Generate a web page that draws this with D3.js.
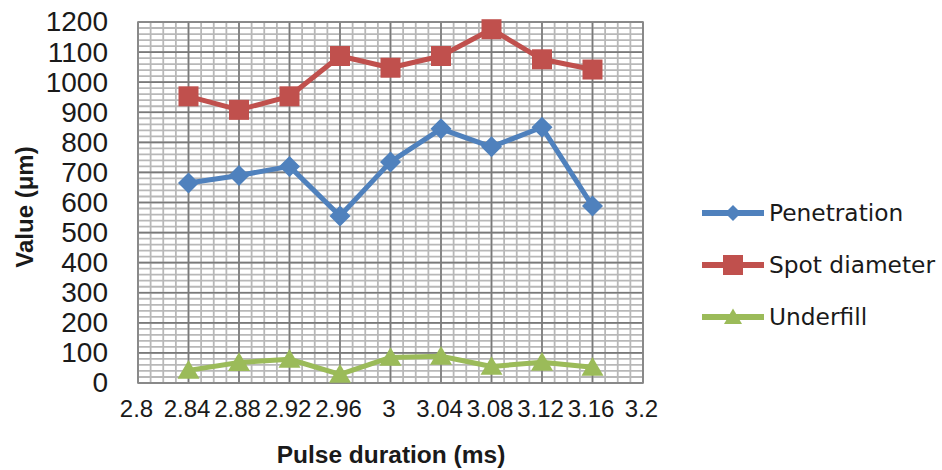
<!DOCTYPE html>
<html>
<head>
<meta charset="utf-8">
<script src="https://cdn.jsdelivr.net/npm/d3@7"></script>
<style>
  html, body { margin: 0; padding: 0; background: #fff; }
  svg { display: block; }
</style>
</head>
<body>
<svg id="chart" width="942" height="470"></svg>
<script>
// Pulse duration (ms) and measured weld features (µm)
const durations = [2.84, 2.88, 2.92, 2.96, 3.00, 3.04, 3.08, 3.12, 3.16];
const penetration = [665, 690, 720, 555, 735, 845, 785, 850, 588];
const spotDiameter = [953, 908, 953, 1087, 1048, 1087, 1176, 1076, 1042];
const underfill = [42, 68, 79, 29, 85, 89, 55, 69, 52];

const seriesNames = ["Penetration", "Spot diameter", "Underfill"];
const seriesColors = ["#4F81BD", "#C0504D", "#9BBB59"];
const seriesMarkers = ["diamond", "square", "triangle"];

const xTickValues = [2.8, 2.84, 2.88, 2.92, 2.96, 3.0, 3.04, 3.08, 3.12, 3.16, 3.2];
const xTickLabels = ["2.8", "2.84", "2.88", "2.92", "2.96", "3", "3.04", "3.08", "3.12", "3.16", "3.2"];
const yTickValues = [0, 100, 200, 300, 400, 500, 600, 700, 800, 900, 1000, 1100, 1200];

const svg = d3.select("#chart");
const plot = { left: 138, right: 643, top: 22, bottom: 383 };

const x = d3.scaleLinear().domain([2.8, 3.2]).range([plot.left, plot.right]);
const y = d3.scaleLinear().domain([0, 1200]).range([plot.bottom, plot.top]);

// minor grid: five subdivisions per major step on both axes
const xMinor = d3.range(0, 41).map(i => 2.8 + i * 0.01);
const yMinor = d3.range(0, 61).map(i => i * 20);

const g = svg.append("g");

g.append("g").selectAll("line").data(xMinor).join("line")
  .attr("x1", d => x(d)).attr("x2", d => x(d))
  .attr("y1", plot.top).attr("y2", plot.bottom)
  .attr("stroke", "#b8b8b8").attr("stroke-width", 1.8);
g.append("g").selectAll("line").data(yMinor).join("line")
  .attr("x1", plot.left).attr("x2", plot.right)
  .attr("y1", d => y(d)).attr("y2", d => y(d))
  .attr("stroke", "#b8b8b8").attr("stroke-width", 1.8);

// major grid
g.append("g").selectAll("line").data(xTickValues).join("line")
  .attr("x1", d => x(d)).attr("x2", d => x(d))
  .attr("y1", plot.top).attr("y2", plot.bottom)
  .attr("stroke", "#7a7a7a").attr("stroke-width", 1.6);
g.append("g").selectAll("line").data(yTickValues).join("line")
  .attr("x1", plot.left).attr("x2", plot.right)
  .attr("y1", d => y(d)).attr("y2", d => y(d))
  .attr("stroke", "#7a7a7a").attr("stroke-width", 1.6);

// plot border
g.append("rect")
  .attr("x", plot.left).attr("y", plot.top)
  .attr("width", plot.right - plot.left).attr("height", plot.bottom - plot.top)
  .attr("fill", "none").attr("stroke", "#8a8a8a").attr("stroke-width", 1.6);

// axes (labels only; the grid carries the lines)
const yAxis = d3.axisLeft(y).tickValues(yTickValues)
  .tickFormat(d3.format("d")).tickSize(0).tickPadding(0);
const yAx = svg.append("g").attr("transform", `translate(${108},0)`).call(yAxis);
yAx.select(".domain").remove();
yAx.selectAll("text")
  .attr("font-family", "Liberation Sans, Arial, sans-serif")
  .attr("font-size", 28).attr("fill", "#1a1a1a");

const xAxis = d3.axisBottom(x).tickValues(xTickValues)
  .tickFormat((d, i) => xTickLabels[i]).tickSize(0).tickPadding(0);
const xAx = svg.append("g").attr("transform", `translate(-2,${400})`).call(xAxis);
xAx.select(".domain").remove();
xAx.selectAll("text")
  .attr("font-family", "Liberation Sans, Arial, sans-serif")
  .attr("font-size", 24).attr("fill", "#1a1a1a");

// axis titles
svg.append("text")
  .attr("x", 391).attr("y", 463)
  .attr("text-anchor", "middle")
  .attr("font-family", "Liberation Sans, Arial, sans-serif")
  .attr("font-weight", "bold").attr("font-size", 24.5).attr("fill", "#1a1a1a")
  .text("Pulse duration (ms)");

svg.append("text")
  .attr("transform", "translate(33,207) rotate(-90)")
  .attr("text-anchor", "middle")
  .attr("font-family", "Liberation Sans, Arial, sans-serif")
  .attr("font-weight", "bold").attr("font-size", 24).attr("fill", "#1a1a1a")
  .text("Value (\u03bcm)");

// marker shapes
function markerPath(kind, s) {
  if (kind === "diamond") return `M0,${-s}L${s},0L0,${s}L${-s},0Z`;
  if (kind === "square") return `M${-s},${-s}H${s}V${s}H${-s}Z`;
  const h = s * 1.7;
  return `M0,${-h * 0.55}L${s},${h * 0.45}L${-s},${h * 0.45}Z`;
}

const seriesValues = [penetration, spotDiameter, underfill];
const line = d3.line().x(d => x(d[0])).y(d => y(d[1]));

seriesValues.forEach((vals, si) => {
  const pts = durations.map((d, i) => [d, vals[i]]);
  const sg = svg.append("g");
  sg.append("path").datum(pts)
    .attr("d", line).attr("fill", "none")
    .attr("stroke", seriesColors[si]).attr("stroke-width", 5)
    .attr("stroke-linejoin", "round");
  const sz = [10.5, 10, 11][si];
  sg.selectAll("path.m").data(pts).join("path").attr("class", "m")
    .attr("transform", d => `translate(${x(d[0])},${y(d[1])})`)
    .attr("d", markerPath(seriesMarkers[si], sz))
    .attr("fill", seriesColors[si]);
});

// legend
const legend = svg.append("g");
const legendY = [213, 265, 317];
seriesNames.forEach((name, i) => {
  const lg = legend.append("g").attr("transform", `translate(0,${legendY[i]})`);
  lg.append("line").attr("x1", 702).attr("x2", 764).attr("y1", 0).attr("y2", 0)
    .attr("stroke", seriesColors[i]).attr("stroke-width", 6);
  lg.append("path").attr("transform", "translate(733,0)")
    .attr("d", markerPath(seriesMarkers[i], [8, 10, 9][i]))
    .attr("fill", seriesColors[i]);
  lg.append("text").attr("x", 769).attr("y", 0).attr("dy", "0.35em")
    .attr("font-family", "DejaVu Sans, sans-serif")
    .attr("font-size", 23.3).attr("fill", "#1a1a1a")
    .text(name);
});
</script>
</body>
</html>
